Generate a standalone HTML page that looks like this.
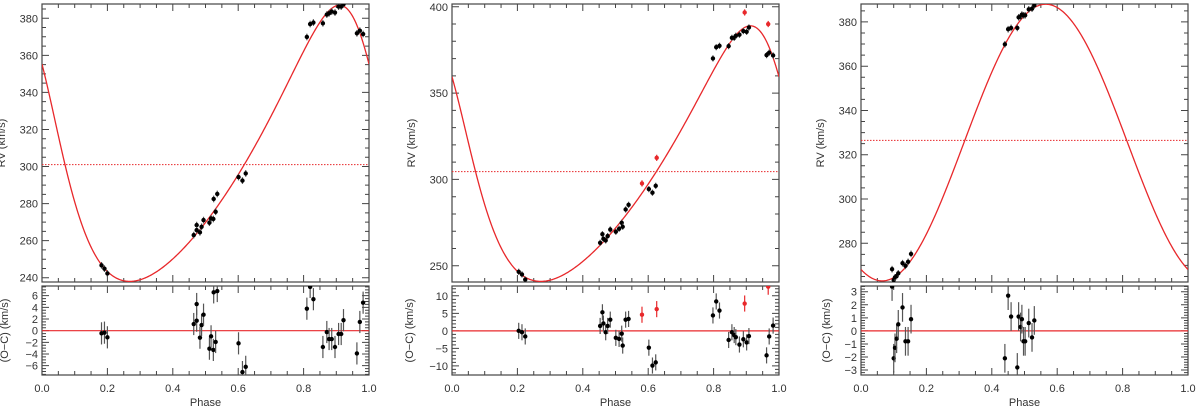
<!DOCTYPE html>
<html><head><meta charset="utf-8"><style>
html,body{margin:0;padding:0;background:#fff;}
svg{display:block;font-family:"Liberation Sans",sans-serif;}
</style></head><body>
<svg id="fig" width="1200" height="410" viewBox="0 0 1200 410" xmlns="http://www.w3.org/2000/svg"></svg>
<script>
// ---------- data ----------
const p1Phase=[0.182,0.191,0.200,0.464,0.473,0.473,0.483,0.488,0.494,0.512,0.517,0.524,0.525,0.531,0.536,0.601,0.613,0.623,0.810,0.820,0.830,0.859,0.871,0.878,0.886,0.896,0.907,0.915,0.922,0.963,0.972,0.982];
const p1RV=[246.7,244.9,242.3,263.0,268.4,265.7,264.5,267.5,271.1,269.7,272.0,271.7,282.5,275.6,285.2,294.3,292.4,296.3,369.9,376.9,377.7,377.3,382.0,382.7,383.6,383.1,386.3,386.3,387.5,371.9,373.3,371.5];
const p1Res=[-0.46,-0.34,-1.14,1.14,4.57,1.71,-1.2,0.97,2.74,-3.09,-0.97,-3.3,6.57,-1.94,6.8,-2.17,-7.1,-6.2,3.77,7.5,5.4,-2.8,-0.23,-1.43,-1.43,-2.8,-0.57,-0.57,1.8,-3.9,1.49,4.8];
const p1Model={gamma:301,K:74.5,e:0.27,omegaDeg:55,tPeri:1.0};

const p2Phase=[0.204,0.214,0.224,0.453,0.460,0.463,0.470,0.476,0.484,0.501,0.511,0.519,0.522,0.531,0.540,0.602,0.613,0.623,0.798,0.808,0.818,0.846,0.856,0.863,0.868,0.879,0.891,0.901,0.908,0.962,0.970,0.982];
const p2RV=[246.5,245,242,263.3,268.3,265.6,264.7,267.2,271,269.7,271.4,274.9,272.6,282.6,285.3,294.4,292.3,296.3,370.1,376.6,377.4,377.2,382,382,383.2,383.8,385.9,385.5,388,372,373.4,371.8];
const p2Res=[0,-0.4,-1.6,1.4,5.3,2.1,-0.4,1.4,3.2,-2,-2.3,-0.8,-4.2,3.2,3.4,-4.8,-9.9,-9,4.4,8.4,5.8,-2.6,-0.4,-1.2,-1.8,-3.9,-2.4,-3.3,-1.5,-7,-1.6,1.5];
const p2RedPhase=[0.581,0.626,0.895,0.967];
const p2RedRV=[297.7,312.5,396.7,390];
const p2RedRes=[4.6,6.2,7.8,12.6];
const p2Model={gamma:303.5,K:74,e:0.27,omegaDeg:55,tPeri:1.003};

const p3Phase=[0.095,0.100,0.104,0.109,0.114,0.127,0.136,0.144,0.153,0.440,0.450,0.459,0.478,0.482,0.488,0.492,0.497,0.502,0.513,0.523,0.530];
const p3RV=[268.3,263.4,264.6,265.2,266.4,271,269.8,271.6,275.2,369.9,376.7,377.3,377.3,382.1,382.4,383.3,383,383,385.7,386,387.5];
const p3Res=[3.4,-2.1,-1.3,-0.6,0.5,1.8,-0.8,-0.8,0.9,-2.1,2.7,1.1,-2.8,1.1,0.3,0.9,-0.8,-0.8,0.6,-0.5,0.8];
const p3Model={gamma:325.5,K:62.5,e:0.0,omegaDeg:0,tPeri:0.565};

const xTicks=[0,0.2,0.4,0.6,0.8,1.0];
const xTickLabels=["0.0","0.2","0.4","0.6","0.8","1.0"];

// ---------- drawing ----------
const NS="http://www.w3.org/2000/svg";
const svg=document.getElementById('fig');
function mk(tag,attrs,parent){const e=document.createElementNS(NS,tag);for(const k in attrs)e.setAttribute(k,attrs[k]);(parent||svg).appendChild(e);return e;}

function keplerRV(ph,m){
  const M=2*Math.PI*(ph-m.tPeri);
  let E=M;for(let i=0;i<30;i++)E=E-(E-m.e*Math.sin(E)-M)/(1-m.e*Math.cos(E));
  const nu=2*Math.atan2(Math.sqrt(1+m.e)*Math.sin(E/2),Math.sqrt(1-m.e)*Math.cos(E/2));
  const w=m.omegaDeg*Math.PI/180;
  return m.gamma+m.K*(Math.cos(nu+w)+m.e*Math.cos(w));
}

function axisBox(g,L,R,T,B,ymin,ymax,ymaj,ymin2,showX,yfmt,yTitle,titleOff,name){
  const sx=v=>L+(R-L)*v;
  const sy=v=>B-(B-T)*(v-ymin)/(ymax-ymin);
  mk('rect',{x:L,y:T,width:R-L,height:B-T,fill:'none',stroke:'#444','stroke-width':1.2},g);
  let d='';
  for(let i=0;i<=20;i++){const v=i*0.05;const x=sx(v);const len=(i%4===0)?7:4;d+=`M${x},${B}v${-len}M${x},${T}v${len}`;}
  const s0=Math.ceil(ymin/ymin2-1e-9);
  for(let k=s0;k*ymin2<=ymax+1e-9;k++){const v=k*ymin2;const y=sy(v);const maj=Math.abs(v/ymaj-Math.round(v/ymaj))<1e-6;const len=maj?7:4;d+=`M${L},${y}h${len}M${R},${y}h${-len}`;
    if(maj){const t=mk('text',{x:L-4,y:y+4,'text-anchor':'end','font-size':11,fill:'#333'},g);t.textContent=yfmt(v);}}
  mk('path',{d:d,stroke:'#444','stroke-width':1,fill:'none'},g);
  const cy=(T+B)/2;
  const tt=mk('text',{x:L-titleOff,y:cy,'text-anchor':'middle','font-size':11,fill:'#333',transform:`rotate(-90 ${L-titleOff} ${cy})`},g);
  tt.textContent=yTitle;
  
  
  if(showX){
    xTicks.forEach((v,i)=>{const t=mk('text',{x:sx(v),y:392,'text-anchor':'middle','font-size':11,fill:'#333'},g);t.textContent=xTickLabels[i];});
    const xt=mk('text',{x:(L+R)/2,y:406,'text-anchor':'middle','font-size':11,fill:'#333'},g);xt.textContent='Phase';
    
    
  }
  return {sx,sy};
}

function points(g,sx,sy,phases,vals,err,color,clipId,name){
  const gg=mk('g',{'clip-path':`url(#${clipId})`},g);
  phases.forEach((p,i)=>{
    const x=sx(p),y=sy(vals[i]);
    const ln=mk('line',{x1:x,x2:x,y1:sy(vals[i]-err),y2:sy(vals[i]+err),stroke:color==='#000'?'#555':color,'stroke-width':1.2},gg);
    
    
    const c=mk('circle',{cx:x,cy:y,r:2.2,fill:color},gg);
    
    
  });
}

let clipN=0;
function clip(L,R,T,B){const id='c'+(clipN++);const cp=mk('clipPath',{id:id});mk('rect',{x:L,y:T,width:R-L,height:B-T},cp);return id;}

function panel(cfg){
  const g=mk('g',{});
  
  
  const T=4,B=282,T2=286,B2=375;
  const a=axisBox(g,cfg.L,cfg.R,T,B,cfg.rvMin,cfg.rvMax,cfg.rvMaj,cfg.rvMinor,false,v=>String(Math.round(v)),'RV (km/s)',37,cfg.name+'-rv');
  const cid=clip(cfg.L,cfg.R,T,B);
  const cg=mk('g',{'clip-path':`url(#${cid})`},g);
  let d='';for(let i=0;i<=400;i++){const p=i/400;d+=(i?'L':'M')+a.sx(p).toFixed(2)+','+a.sy(keplerRV(p,cfg.model)).toFixed(2);}
  const curve=mk('path',{d:d,stroke:'#e8282b','stroke-width':1.3,fill:'none'},cg);
  
  
  const sys=mk('line',{x1:cfg.L,x2:cfg.R,y1:a.sy(cfg.model.gamma+cfg.sysOff),y2:a.sy(cfg.model.gamma+cfg.sysOff),stroke:'#e8282b','stroke-width':1,'stroke-dasharray':'1.5,1.5'},cg);
  
  
  points(g,a.sx,a.sy,cfg.phase,cfg.rv,cfg.rvErr,'#000',cid,cfg.name+'-rv');
  if(cfg.redPhase)points(g,a.sx,a.sy,cfg.redPhase,cfg.redRV,cfg.rvErr,'#e8282b',cid,cfg.name+'-rv-outlier');
  const b=axisBox(g,cfg.L,cfg.R,T2,B2,cfg.resMin,cfg.resMax,cfg.resMaj,cfg.resMinor,true,v=>(v<0?'\u2212':'')+String(Math.abs(Math.round(v))),'(O\u2212C) (km/s)',cfg.resOff,cfg.name+'-residual');
  const cid2=clip(cfg.L,cfg.R,T2,B2);
  const zl=mk('line',{x1:cfg.L,x2:cfg.R,y1:b.sy(0),y2:b.sy(0),stroke:'#e8282b','stroke-width':1.2},g);
  
  
  points(g,b.sx,b.sy,cfg.phase,cfg.res,cfg.resErr,'#000',cid2,cfg.name+'-residual');
  if(cfg.redPhase)points(g,b.sx,b.sy,cfg.redPhase,cfg.redRes,cfg.resErr,'#e8282b',cid2,cfg.name+'-residual-outlier');
}

panel({name:'panel-1',L:42,R:369,rvMin:237.7,rvMax:387.7,rvMaj:20,rvMinor:5,resMin:-7.6,resMax:7.66,resMaj:2,resMinor:0.5,resOff:34,
  model:p1Model,sysOff:0,phase:p1Phase,rv:p1RV,res:p1Res,rvErr:1.8,resErr:1.9});
panel({name:'panel-2',L:452,R:779,rvMin:240.6,rvMax:401.6,rvMaj:50,rvMinor:10,resMin:-12.6,resMax:12.8,resMaj:5,resMinor:1,resOff:39,
  model:p2Model,sysOff:1.0,phase:p2Phase,rv:p2RV,res:p2Res,redPhase:p2RedPhase,redRV:p2RedRV,redRes:p2RedRes,rvErr:1.8,resErr:2.3});
panel({name:'panel-3',L:861,R:1188,rvMin:262.5,rvMax:388.1,rvMaj:20,rvMinor:5,resMin:-3.38,resMax:3.44,resMaj:1,resMinor:0.2,resOff:31,
  model:p3Model,sysOff:1,phase:p3Phase,rv:p3RV,res:p3Res,rvErr:1.5,resErr:1.1});
</script>
</body></html>
